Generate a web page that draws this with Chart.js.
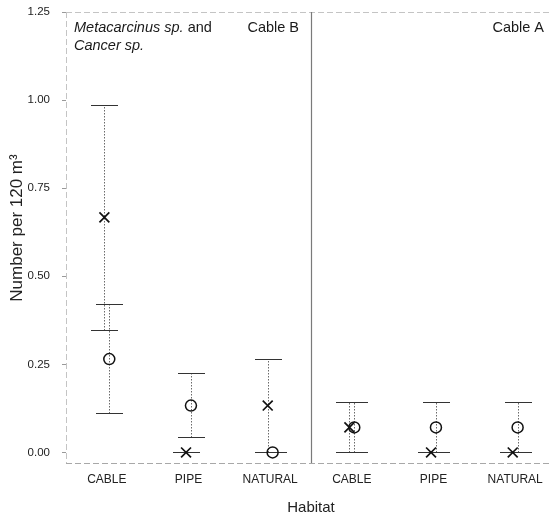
<!DOCTYPE html>
<html>
<head>
<meta charset="utf-8">
<script src="https://cdn.jsdelivr.net/npm/chart.js@4"></script>
<style>
  html, body { margin: 0; padding: 0; background: #fff; overflow: hidden; }
  #wrap { width: 556px; height: 519px; }
</style>
</head>
<body>
<div id="wrap"><canvas id="crabChart" width="556" height="519"></canvas></div>
<script>
const categories = ["CABLE", "PIPE", "NATURAL"];
const panels = ["Cable B", "Cable A"];
const yTicks = [0, 0.25, 0.5, 0.75, 1.0, 1.25];

// crosses (one survey)
const crossMean = [0.667, 0, 0.133, 0.071, 0, 0];
const crossLow = [0.348, 0, 0, 0, 0, 0];
const crossHigh = [0.985, 0, 0.265, 0.142, 0, 0];

// open circles (other survey)
const circleMean = [0.265, 0.133, 0, 0.071, 0.071, 0.071];
const circleLow = [0.112, 0.043, 0, 0, 0, 0];
const circleHigh = [0.42, 0.225, 0, 0.142, 0.142, 0.142];

const FONT = "'Liberation Sans', Arial, Helvetica, sans-serif";

function makePoints(mean, low, high, shift) {
  return mean.map((v, i) => ({ x: i + 0.5 + shift, y: v, lo: low[i], hi: high[i] }));
}

// frame lines + panel divider
const framePlugin = {
  id: "frame",
  beforeDatasetsDraw(chart) {
    const { ctx, chartArea: a, scales } = chart;
    ctx.save();
    ctx.lineWidth = 1;
    ctx.setLineDash([6, 3]);
    ctx.strokeStyle = "#c4c4c4";
    ctx.beginPath();
    ctx.moveTo(a.left, a.top + 0.5);
    ctx.lineTo(a.right, a.top + 0.5);
    ctx.moveTo(a.left + 0.5, a.top);
    ctx.lineTo(a.left + 0.5, a.bottom);
    ctx.stroke();
    ctx.strokeStyle = "#a8a8a8";
    ctx.beginPath();
    ctx.moveTo(a.left, a.bottom + 0.5);
    ctx.lineTo(a.right, a.bottom + 0.5);
    ctx.stroke();
    ctx.setLineDash([]);
    const xd = Math.round(scales.x.getPixelForValue(categories.length)) + 0.5;
    ctx.strokeStyle = "#7a7a7a";
    ctx.lineWidth = 1.2;
    ctx.beginPath();
    ctx.moveTo(xd, a.top);
    ctx.lineTo(xd, a.bottom);
    ctx.stroke();
    ctx.restore();
  }
};

// error bars from each dataset's lo/hi
const errorBarPlugin = {
  id: "errorBars",
  beforeDatasetsDraw(chart) {
    const { ctx, scales } = chart;
    const capHalf = 13.5;
    ctx.save();
    chart.data.datasets.forEach(ds => {
      ds.data.forEach(p => {
        const x = Math.round(scales.x.getPixelForValue(p.x)) + 0.5;
        const yl = Math.round(scales.y.getPixelForValue(p.lo)) + 0.5;
        const yh = Math.round(scales.y.getPixelForValue(p.hi)) + 0.5;
        ctx.strokeStyle = "#6a6a6a";
        ctx.lineWidth = 1;
        ctx.setLineDash([1.5, 1.5]);
        ctx.beginPath();
        ctx.moveTo(x, yl);
        ctx.lineTo(x, yh);
        ctx.stroke();
        ctx.setLineDash([]);
        ctx.strokeStyle = "#333";
        ctx.beginPath();
        ctx.moveTo(x - capHalf, yl);
        ctx.lineTo(x + capHalf, yl);
        ctx.moveTo(x - capHalf, yh);
        ctx.lineTo(x + capHalf, yh);
        ctx.stroke();
      });
    });
    ctx.restore();
  }
};

// panel labels + y title
const labelPlugin = {
  id: "panelLabels",
  afterDraw(chart) {
    const { ctx, chartArea: a, scales } = chart;
    ctx.save();
    ctx.fillStyle = "#1a1a1a";
    ctx.textBaseline = "alphabetic";
    const x0 = a.left + 8;
    ctx.font = "italic 14.5px " + FONT;
    ctx.textAlign = "left";
    ctx.fillText("Metacarcinus sp.", x0, 32);
    let w = ctx.measureText("Metacarcinus sp.").width;
    ctx.font = "14.5px " + FONT;
    ctx.fillText(" and", x0 + w, 32);
    ctx.font = "italic 14.5px " + FONT;
    ctx.fillText("Cancer sp.", x0, 50);
    ctx.font = "14.5px " + FONT;
    ctx.textAlign = "right";
    panels.forEach((name, k) => {
      const xr = scales.x.getPixelForValue((k + 1) * categories.length);
      ctx.fillText(name, xr - 12, 32);
    });

    ctx.translate(17, 228);
    ctx.rotate(-Math.PI / 2);
    ctx.textAlign = "center";
    ctx.textBaseline = "middle";
    ctx.fillStyle = "#222";
    ctx.font = "17px " + FONT;
    ctx.fillText("Number per 120 m³", 0, 0);
    ctx.restore();
  }
};

const ctx = document.getElementById("crabChart").getContext("2d");

const myChart = new Chart(ctx, {
  type: "scatter",
  data: {
    datasets: [
      {
        label: "x",
        data: makePoints(crossMean, crossLow, crossHigh, -0.03),
        pointStyle: "crossRot",
        radius: 7,
        borderColor: "#111",
        borderWidth: 1.7,
        backgroundColor: "rgba(0,0,0,0)",
      },
      {
        label: "o",
        data: makePoints(circleMean, circleLow, circleHigh, 0.03),
        pointStyle: "circle",
        radius: 5.5,
        borderColor: "#111",
        borderWidth: 1.5,
        backgroundColor: "rgba(0,0,0,0)",
      },
    ],
  },
  options: {
    responsive: false,
    animation: false,
    layout: { autoPadding: false, padding: { top: 12, right: 0, bottom: 0, left: 0 } },
    scales: {
      x: {
        type: "linear",
        min: 0,
        max: categories.length * panels.length,
        afterFit: s => {
          s.height = 56;
          s.paddingLeft = 0;
          s.paddingRight = 0;
        },
        afterBuildTicks: s => {
          const t = [];
          for (let i = 0; i < categories.length * panels.length; i++) t.push({ value: i + 0.5 });
          s.ticks = t;
        },
        ticks: {
          autoSkip: false,
          maxRotation: 0,
          padding: 9,
          color: "#222",
          font: { family: FONT, size: 12 },
          callback: v => categories[Math.floor(v) % categories.length],
        },
        grid: { display: false, drawTicks: false },
        border: { display: false },
        title: {
          display: true,
          text: "Habitat",
          color: "#222",
          font: { family: FONT, size: 15 },
          padding: { top: 0, bottom: 2 },
        },
      },
      y: {
        min: -0.03,
        max: 1.25,
        afterFit: s => {
          s.width = 66;
          s.paddingTop = 0;
          s.paddingBottom = 0;
        },
        afterBuildTicks: s => { s.ticks = yTicks.map(v => ({ value: v })); },
        ticks: {
          padding: 12,
          color: "#222",
          font: { family: FONT, size: 11.5 },
          callback: v => v.toFixed(2),
        },
        grid: { drawOnChartArea: false, tickLength: 4, color: "#999" },
        border: { display: false },
        title: { display: false },
      },
    },
    plugins: {
      legend: { display: false },
      tooltip: { enabled: false },
    },
  },
  plugins: [framePlugin, errorBarPlugin, labelPlugin],
});
</script>
</body>
</html>
